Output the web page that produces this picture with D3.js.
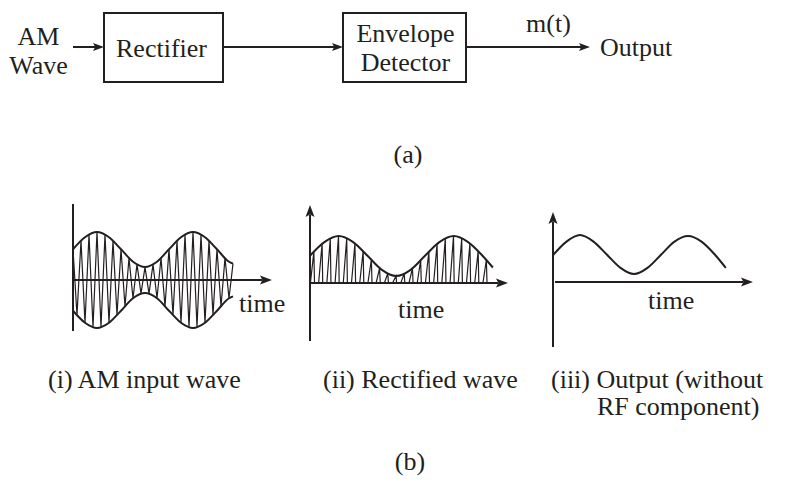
<!DOCTYPE html>
<html><head><meta charset="utf-8">
<script src="https://cdn.jsdelivr.net/npm/d3@7"></script>
<style>
html,body{margin:0;padding:0;background:#fff;}
svg{display:block;}
text{font-family:"Liberation Serif","Times New Roman",serif;fill:#231f20;}
</style>
</head><body>
<svg id="c" width="795" height="483"></svg>
<script>
// ---------- data ----------
const inputLabel = ["AM", "Wave"];
const blockLabels = [["Rectifier"], ["Envelope", "Detector"]];
const outputLabel = "Output";
const signalLabel = "m(t)";
const captionA = "(a)";
const captionB = "(b)";
const panelCaptions = [["(i) AM input wave"], ["(ii) Rectified wave"], ["(iii) Output (without", "RF component)"]];
const axisLabel = "time";

// time in units of message period, amplitude normalised to the envelope peak
const amT        = [0, 0.125, 0.25, 0.375, 0.5, 0.625, 0.75, 0.875, 1, 1.125, 1.25, 1.375, 1.5, 1.625, 1.667];
const amEnvelope = [0.64, 0.89, 1.0, 0.89, 0.64, 0.38, 0.27, 0.38, 0.64, 0.89, 1.0, 0.89, 0.64, 0.38, 0.34];
const amCarrierCycles = 12;          // carrier cycles per message period

const rectT        = [0, 0.125, 0.25, 0.375, 0.5, 0.625, 0.75, 0.875, 1, 1.125, 1.25, 1.375, 1.5, 1.59];
const rectEnvelope = [0.58, 0.87, 1.0, 0.87, 0.58, 0.28, 0.15, 0.28, 0.58, 0.87, 1.0, 0.87, 0.58, 0.33];
const rectPulses = 14;               // rectified pulses per message period

const outT      = [0, 0.125, 0.25, 0.375, 0.5, 0.625, 0.75, 0.875, 1, 1.125, 1.25, 1.375, 1.5, 1.6];
const outSignal = [0.57, 0.86, 1.0, 0.86, 0.58, 0.3, 0.17, 0.3, 0.58, 0.86, 0.98, 0.86, 0.58, 0.3];

// ---------- helpers ----------
const INK = "#231f20";
const svg = d3.select("#c");
const FS = 26;

function txt(x, y, s, anchor) {
  svg.append("text").attr("x", x).attr("y", y).attr("font-size", FS)
     .attr("text-anchor", anchor || "start").text(s);
}
function arrowHead(tipX, tipY, dir, len, half) {
  // dir: "right" or "up"
  let pts;
  if (dir === "right") pts = [[tipX, tipY], [tipX - len, tipY - half], [tipX - len * 0.8, tipY], [tipX - len, tipY + half]];
  else pts = [[tipX, tipY], [tipX - half, tipY + len], [tipX, tipY + len * 0.8], [tipX + half, tipY + len]];
  svg.append("path").attr("d", "M" + pts.map(p => p.join(",")).join("L") + "Z").attr("fill", INK);
}
function hLine(x1, x2, y, w) {
  svg.append("line").attr("x1", x1).attr("x2", x2).attr("y1", y).attr("y2", y)
     .attr("stroke", INK).attr("stroke-width", w || 2);
}
function vLine(x, y1, y2, w) {
  svg.append("line").attr("x1", x).attr("x2", x).attr("y1", y1).attr("y2", y2)
     .attr("stroke", INK).attr("stroke-width", w || 2);
}
// cubic Hermite evaluation through key samples (for carrier vertices)
function evalAt(T, V, t) {
  const n = T.length;
  if (t <= T[0]) return V[0];
  if (t >= T[n - 1]) return V[n - 1];
  let i = 0;
  while (i < n - 2 && t > T[i + 1]) i++;
  const slope = k => {
    const a = Math.max(0, k - 1), b = Math.min(n - 1, k + 1);
    return (V[b] - V[a]) / (T[b] - T[a]);
  };
  const h = T[i + 1] - T[i], s = (t - T[i]) / h;
  const m0 = slope(i) * h, m1 = slope(i + 1) * h;
  const s2 = s * s, s3 = s2 * s;
  return (2 * s3 - 3 * s2 + 1) * V[i] + (s3 - 2 * s2 + s) * m0 + (-2 * s3 + 3 * s2) * V[i + 1] + (s3 - s2) * m1;
}

// ---------- (a) block diagram ----------
txt(38.5, 45, inputLabel[0], "middle");
txt(38.5, 74, inputLabel[1], "middle");
const boxes = [{x: 104, w: 119}, {x: 343, w: 123}];
const boxY = 13, boxH = 69, midY = 47;
hLine(73, 96, midY);
arrowHead(104, midY, "right", 11, 4);
boxes.forEach((b, i) => {
  svg.append("rect").attr("x", b.x).attr("y", boxY).attr("width", b.w).attr("height", boxH)
     .attr("fill", "none").attr("stroke", INK).attr("stroke-width", 2);
  const lines = blockLabels[i];
  const cx = b.x + b.w / 2 + (i === 0 ? -2 : 1);
  if (lines.length === 1) txt(cx, 57, lines[0], "middle");
  else { txt(cx, 42, lines[0], "middle"); txt(cx, 71, lines[1], "middle"); }
});
hLine(223, 335, midY);
arrowHead(343, midY, "right", 11, 4);
hLine(466, 582, midY);
arrowHead(590, midY, "right", 11, 4);
txt(548.5, 32, signalLabel, "middle");
txt(600, 56, outputLabel);
txt(408, 163, captionA, "middle");

// ---------- (b)(i) AM input wave ----------
{
  const x = d3.scaleLinear().domain([0, 1]).range([73, 169]);
  const y = d3.scaleLinear().domain([-1, 1]).range([328, 232]);
  // axes
  vLine(73, 204, 331);
  hLine(73, 262, y(0));
  arrowHead(272, y(0), "right", 12, 4.5);
  // carrier zigzag
  const half = 1 / (2 * amCarrierCycles);
  const tEnd = amT[amT.length - 1];
  const pts = [];
  for (let k = 0; k * half <= tEnd + half * 0.8; k++) {
    const t = k * half;
    const sgn = k % 2 === 0 ? 1 : -1;
    pts.push([x(t), y(sgn * evalAt(amT, amEnvelope, t))]);
  }
  svg.append("path").attr("d", d3.line()(pts)).attr("fill", "none")
     .attr("stroke", INK).attr("stroke-width", 1.2).attr("stroke-linejoin", "miter");
  // envelopes
  const env = d3.line().x((d, i) => x(amT[i])).curve(d3.curveMonotoneX);
  svg.append("path").attr("d", env.y(d => y(d))(amEnvelope)).attr("fill", "none").attr("stroke", INK).attr("stroke-width", 2);
  svg.append("path").attr("d", env.y(d => y(-d))(amEnvelope)).attr("fill", "none").attr("stroke", INK).attr("stroke-width", 2);
  txt(239, 312, axisLabel);
}

// ---------- (b)(ii) rectified wave ----------
{
  const x = d3.scaleLinear().domain([0, 1]).range([310, 425]);
  const y = d3.scaleLinear().domain([0, 1]).range([283, 236]);
  vLine(310, 215, 341);
  arrowHead(310, 205, "up", 12, 4.5);
  hLine(310, 498, y(0));
  arrowHead(508, y(0), "right", 12, 4.5);
  const P = 1 / rectPulses;
  const tEnd = rectT[rectT.length - 1];
  let d = "";
  for (let k = 0; ; k++) {
    const t0 = k * P + 0.05 * P, tp = t0 + 0.42 * P, t1 = t0 + 0.5 * P;
    if (tp > tEnd + 0.01) break;
    d += `M${x(t0)},${y(0)}L${x(tp)},${y(evalAt(rectT, rectEnvelope, tp))}L${x(t1)},${y(0)}`;
  }
  svg.append("path").attr("d", d).attr("fill", "none").attr("stroke", INK).attr("stroke-width", 1.2);
  const env = d3.line().x((d, i) => x(rectT[i])).y(d => y(d)).curve(d3.curveMonotoneX);
  svg.append("path").attr("d", env(rectEnvelope)).attr("fill", "none").attr("stroke", INK).attr("stroke-width", 2);
  txt(398, 318, axisLabel);
}

// ---------- (b)(iii) output ----------
{
  const x = d3.scaleLinear().domain([0, 1]).range([553, 661]);
  const y = d3.scaleLinear().domain([0, 1]).range([282, 235]);
  vLine(553, 222, 347);
  arrowHead(553, 212, "up", 12, 4.5);
  hLine(555, 743, y(0));
  arrowHead(753, y(0), "right", 12, 4.5);
  const line = d3.line().x((d, i) => x(outT[i])).y(d => y(d)).curve(d3.curveMonotoneX);
  svg.append("path").attr("d", line(outSignal)).attr("fill", "none").attr("stroke", INK).attr("stroke-width", 2);
  txt(648, 309, axisLabel);
}

// ---------- captions ----------
const capX = [48, 323, 551];
panelCaptions.forEach((lines, i) => {
  txt(capX[i], 388, lines[0]);
  if (lines[1]) txt(597, 415, lines[1]);
});
txt(410, 470, captionB, "middle");
</script>
</body></html>
